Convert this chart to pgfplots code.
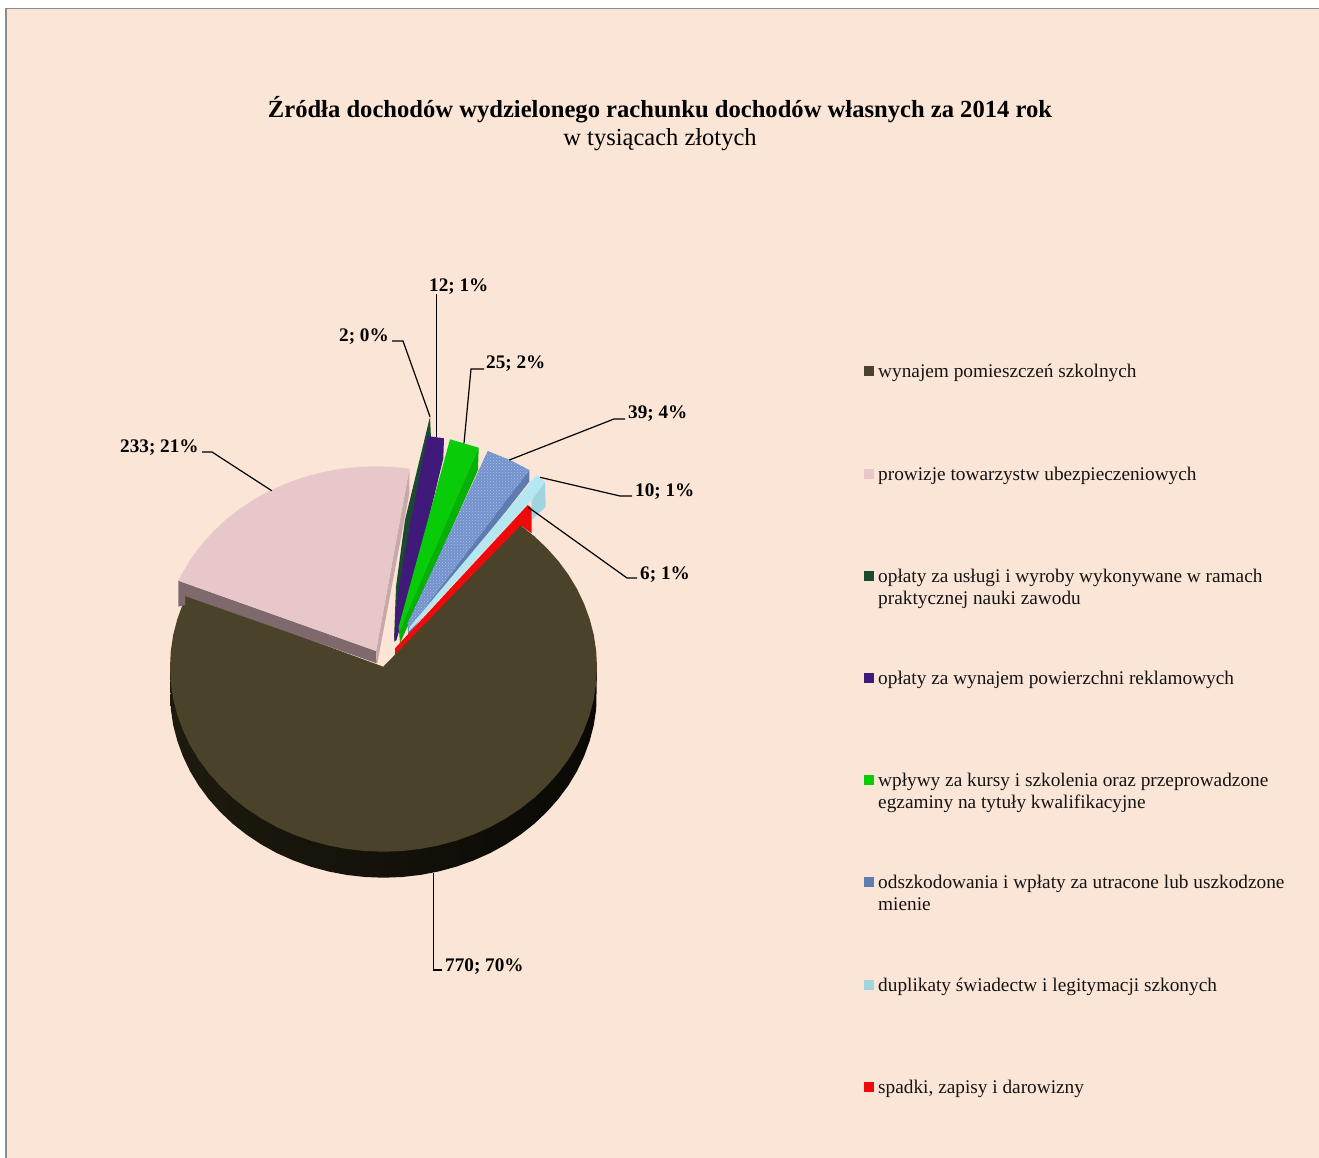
\documentclass[border=0pt]{standalone}
\usepackage{fontspec}
\setmainfont{Liberation Serif}
\usepackage{pgfplots}
\pgfplotsset{compat=1.18}
\usetikzlibrary{patterns}
\definecolor{bg}{HTML}{FBE5D6}
\definecolor{brownC}{HTML}{4A432A}
\definecolor{pinkC}{HTML}{E7C7C9}
\definecolor{pinkS}{HTML}{7F696C}
\definecolor{pinkR}{HTML}{C9A8AA}
\definecolor{dgreen}{HTML}{1C4A30}
\definecolor{purpleC}{HTML}{41197A}
\definecolor{greenC}{HTML}{08CC08}
\definecolor{greenS}{HTML}{06B006}
\definecolor{blueC}{HTML}{7392CC}
\definecolor{blueL}{HTML}{A9C1EA}
\definecolor{blueS}{HTML}{5F7CB0}
\definecolor{lblue}{HTML}{B6E6EF}
\definecolor{lblueS}{HTML}{A0D4DE}
\definecolor{redC}{HTML}{EE0A0A}
\definecolor{sideL}{HTML}{1D1A0E}
\definecolor{sideR}{HTML}{0A0905}
\newcommand{\lab}[3]{\node[anchor=base west,inner sep=0pt,font=\fontsize{19.2}{22}\selectfont\bfseries] at (axis cs:#1,#2) {#3};}
\newcommand{\leg}[3]{\node[anchor=base west,inner sep=0pt,font=\fontsize{19.3}{22}\selectfont,text=black!92] at (axis cs:#1,#2) {#3};}
\newcommand{\swatch}[2]{\addplot[draw=none,fill=#1] coordinates {(864,#2-5) (874,#2-5) (874,#2+5) (864,#2+5)};}
\begin{document}
\begin{tikzpicture}
\begin{axis}[scale only axis,width=1319pt,height=1158pt,xmin=0,xmax=1319,ymin=0,ymax=1158,y dir=reverse,hide axis]
% background
\addplot[draw=none,fill=white] coordinates {(0,0) (1319,0) (1319,1158) (0,1158)};
\addplot[draw=none,fill=bg] coordinates {(6,8) (1318.5,8) (1318.5,1158) (6,1158)};
\addplot[draw=black!45,line width=1.4pt] coordinates {(6,1158) (6,8.5) (1319,8.5)};
% small slices, back to front
\addplot[draw=none,fill=dgreen] coordinates {(430,416.7) (431,438.3) (415,520) (400,586) (394.5,640) (394,640) (396,586.7) (405,520)};
\addplot[draw=none,fill=purpleC] coordinates {(427.3,436) (444,438.3) (443.3,458.3) (426,530) (408,600) (396.5,640) (394.3,641.7) (396,610) (399,586.7) (411,520)};
\addplot[draw=none,fill=greenS] coordinates {(478.7,447.7) (478,470) (400,643.3) (398.7,626.7)};
\addplot[draw=none,fill=greenC] coordinates {(450,439.3) (478.7,447.7) (399.3,631.7) (398.7,626.7)};
\addplot[draw=none,fill=blueS] coordinates {(529.3,470) (529.3,481.7) (408.3,635) (407.7,626.7)};
\addplot[draw=none,fill=blueC] coordinates {(487.7,451) (510,460) (529.3,470) (408.3,630) (407.7,623.3)};
\addplot[draw=none,pattern=crosshatch dots,pattern color=blueL] coordinates {(487.7,451) (510,460) (529.3,470) (408.3,630) (407.7,623.3)};
\addplot[draw=none,fill=lblueS] coordinates {(545,481.7) (545.7,506.7) (531.7,520) (531.7,500)};
\addplot[draw=none,fill=lblue] coordinates {(536.7,475) (545,481.7) (531.7,500) (420,620) (408.3,631.7) (410,626.7)};
\addplot[draw=none,fill=redC] coordinates {(527.7,505) (531.7,508.3) (531.7,533.3) (521.7,526) (395,655) (395,648.3)};
% main slice side
\addplot[draw=none,left color=sideL,right color=sideR] coordinates {
(597,667) (596.2,709.1) (593.8,725.1) (589.7,740.8) (584.1,756.2) (577,771.1) (568.4,785.4) (558.4,798.9) (547,811.7) (534.5,823.6) (520.7,834.5) (506,844.3) (490.3,853) (473.7,860.4) (456.5,866.6) (438.8,871.4) (420.6,874.9) (402.1,877) (383.5,877.7) (364.9,877) (346.4,874.9) (328.2,871.4) (310.5,866.6) (293.3,860.4) (276.7,853) (261,844.3) (246.3,834.5) (232.5,823.6) (220,811.7) (208.6,798.9) (198.6,785.4) (190,771.1) (182.9,756.2) (177.3,740.8) (173.2,725.1) (170.8,709.1) (170,667)};
% main slice top
\addplot[draw=none,fill=brownC] coordinates {
(383.3,666.7) (520.7,525.5) (534.5,536.4) (547,548.3) (558.4,561.1) (568.4,574.6) (577,588.9) (584.1,603.8) (589.7,619.2) (593.8,634.9) (596.2,650.9) (597,667) (596.2,683.1) (593.8,699.1) (589.7,714.8) (584.1,730.2) (577,745.1) (568.4,759.4) (558.4,772.9) (547,785.7) (534.5,797.6) (520.7,808.5) (506,818.3) (490.3,827) (473.7,834.4) (456.5,840.6) (438.8,845.4) (420.6,848.9) (402.1,851) (383.5,851.7) (364.9,851) (346.4,848.9) (328.2,845.4) (310.5,840.6) (293.3,834.4) (276.7,827) (261,818.3) (246.3,808.5) (232.5,797.6) (220,785.7) (208.6,772.9) (198.6,759.4) (190,745.1) (182.9,730.2) (177.3,714.8) (173.2,699.1) (170.8,683.1) (170,667) (170.8,650.9) (173.2,634.9) (177.3,619.2) (182.9,603.8) (185.5,594)};
% pink slice sides and top
\addplot[draw=none,fill=pinkS] coordinates {(178.3,580.7) (376,651) (376.7,663.3) (185,596) (185,605) (178.3,606.7)};
\addplot[draw=none,fill=pinkR] coordinates {(409.4,468.6) (409.4,493) (377.3,663.3) (376,651)};
\addplot[draw=none,fill=pinkC] coordinates {(376,651) (178.3,580.7) (182.5,572.9) (191.1,558.6) (201.1,545.1) (212.5,532.3) (225,520.4) (238.8,509.5) (253.5,499.7) (269.2,491) (285.8,483.6) (303,477.4) (320.7,472.6) (338.9,469.1) (357.4,467) (376,466.3) (394.6,467) (409.4,468.6)};
% leader lines
\addplot[black,line width=1.2pt] coordinates {(392,341) (403,341) (430,416.7)};
\addplot[black,line width=1.2pt] coordinates {(436.7,294) (436.7,436.7)};
\addplot[black,line width=1.2pt] coordinates {(484,369) (471,369) (464,443.3)};
\addplot[black,line width=1.2pt] coordinates {(625,419) (614,419) (509.3,460)};
\addplot[black,line width=1.2pt] coordinates {(632,496) (620,496) (540,477.3)};
\addplot[black,line width=1.2pt] coordinates {(637,578) (627,578) (528.3,507.3)};
\addplot[black,line width=1.2pt] coordinates {(202,452) (212,452) (271.7,490.7)};
\addplot[black,line width=1.2pt] coordinates {(433.5,872.7) (433.5,970) (442,970)};
% data labels
\lab{429}{291}{12; 1\%}
\lab{339}{341}{2; 0\%}
\lab{486}{368}{25; 2\%}
\lab{628}{418}{39; 4\%}
\lab{635}{496}{10; 1\%}
\lab{640}{579}{6; 1\%}
\lab{120}{452}{233; 21\%}
\lab{445}{971}{770; 70\%}
% title
\node[anchor=base,inner sep=0pt,font=\fontsize{24.6}{28}\selectfont\bfseries] at (axis cs:660,117.5) {Źródła dochodów wydzielonego rachunku dochodów własnych za 2014 rok};
\node[anchor=base,inner sep=0pt,font=\fontsize{24.5}{28}\selectfont] at (axis cs:660,146) {w tysiącach złotych};
% legend
\swatch{brownC}{371}
\swatch{pinkC}{474}
\swatch{dgreen}{576}
\swatch{purpleC}{678}
\swatch{greenC}{780}
\swatch{blueS}{882}
\swatch{lblueS}{985}
\swatch{redC}{1087}
\leg{878}{377}{wynajem pomieszczeń szkolnych}
\leg{878}{480}{prowizje towarzystw ubezpieczeniowych}
\leg{878}{582}{opłaty za usługi i wyroby wykonywane w ramach}
\leg{878}{604}{praktycznej nauki zawodu}
\leg{878}{684}{opłaty za wynajem powierzchni reklamowych}
\leg{878}{786}{wpływy za kursy i szkolenia oraz przeprowadzone}
\leg{878}{808}{egzaminy na tytuły kwalifikacyjne}
\leg{878}{888}{odszkodowania i wpłaty za utracone lub uszkodzone}
\leg{878}{910}{mienie}
\leg{878}{991}{duplikaty świadectw i legitymacji szkonych}
\leg{878}{1093}{spadki, zapisy i darowizny}
\end{axis}
\end{tikzpicture}
\end{document}
